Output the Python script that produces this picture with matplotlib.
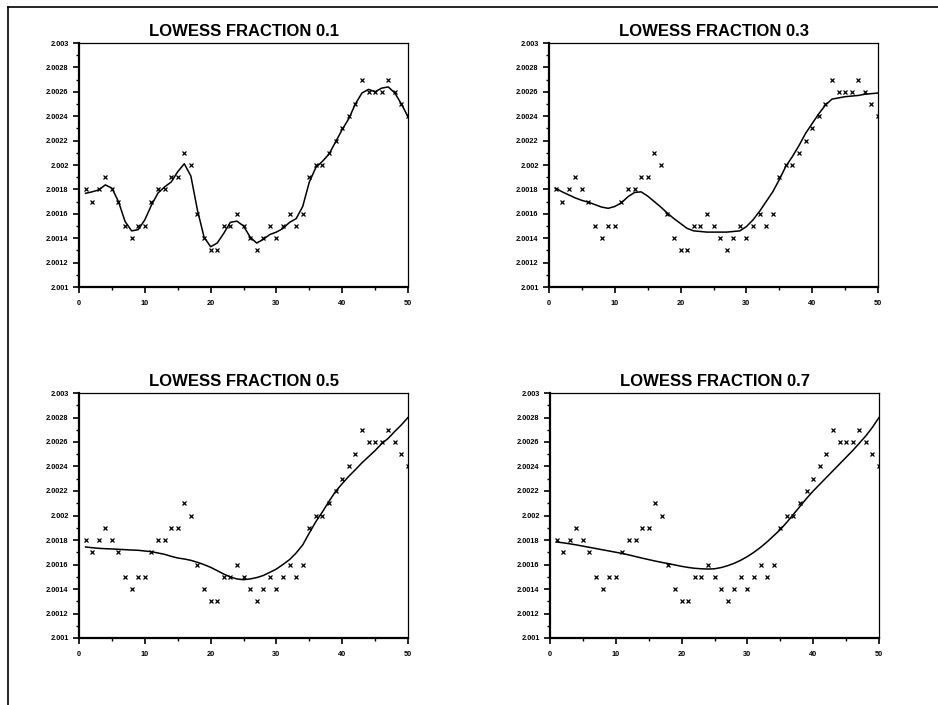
import numpy as np
import matplotlib.pyplot as plt
from matplotlib.lines import Line2D

plt.rcParams['font.family'] = ['Liberation Sans', 'DejaVu Sans']

x = list(range(1, 51))
y = [2.0018, 2.0017, 2.0018, 2.0019, 2.0018, 2.0017, 2.0015, 2.0014, 2.0015, 2.0015,
     2.0017, 2.0018, 2.0018, 2.0019, 2.0019, 2.0021, 2.0020, 2.0016, 2.0014, 2.0013,
     2.0013, 2.0015, 2.0015, 2.0016, 2.0015, 2.0014, 2.0013, 2.0014, 2.0015, 2.0014,
     2.0015, 2.0016, 2.0015, 2.0016, 2.0019, 2.0020, 2.0020, 2.0021, 2.0022, 2.0023,
     2.0024, 2.0025, 2.0027, 2.0026, 2.0026, 2.0026, 2.0027, 2.0026, 2.0025, 2.0024]

# smoothed curves (units of 1e-4 above 2.001)
fit_01 = [7.68, 7.8, 7.96, 8.37, 8.1, 7.0, 5.37, 4.6, 4.7, 5.5,
          6.7, 7.7, 8.2, 8.6, 9.45, 10.1, 9.1, 6.3, 4.1, 3.3,
          3.6, 4.4, 5.3, 5.4, 5.0, 4.1, 3.6, 3.9, 4.3, 4.5,
          4.8, 5.3, 5.6, 6.6, 8.6, 9.8, 10.3, 10.9, 11.9, 12.9,
          13.8, 15.0, 15.9, 16.2, 16.0, 16.3, 16.4, 15.9, 15.0, 13.95]
fit_03 = [8.1, 7.8, 7.55, 7.3, 7.1, 6.95, 6.75, 6.55, 6.45, 6.6,
          6.9, 7.4, 7.75, 7.8, 7.45, 7.0, 6.55, 6.05, 5.6, 5.2,
          4.8, 4.6, 4.55, 4.5, 4.5, 4.5, 4.5, 4.55, 4.6, 4.95,
          5.5, 6.2, 7.0, 7.8, 8.8, 9.9, 10.7, 11.6, 12.6, 13.4,
          14.2, 14.9, 15.4, 15.5, 15.6, 15.65, 15.7, 15.8, 15.85, 15.9]
fit_05 = [7.43, 7.37, 7.32, 7.29, 7.27, 7.24, 7.21, 7.18, 7.16, 7.1,
          7.05, 6.94, 6.83, 6.67, 6.53, 6.45, 6.34, 6.18, 5.99, 5.77,
          5.5, 5.22, 4.98, 4.82, 4.76, 4.82, 4.93, 5.1, 5.36, 5.63,
          6.0, 6.4, 6.94, 7.6, 8.57, 9.5, 10.3, 11.16, 11.97, 12.6,
          13.2, 13.74, 14.3, 14.8, 15.3, 15.86, 16.3, 16.87, 17.4, 18.0]
fit_07 = [7.84, 7.77, 7.69, 7.6, 7.5, 7.4, 7.3, 7.2, 7.1, 7.0,
          6.9, 6.78, 6.65, 6.52, 6.4, 6.28, 6.17, 6.07, 5.96, 5.85,
          5.76, 5.69, 5.65, 5.63, 5.65, 5.75, 5.9, 6.1, 6.35, 6.65,
          7.0, 7.4, 7.85, 8.35, 8.85, 9.45, 10.1, 10.75, 11.4, 12.0,
          12.55, 13.1, 13.65, 14.2, 14.75, 15.3, 15.9, 16.5, 17.2, 18.0]

titles = ['LOWESS FRACTION 0.1', 'LOWESS FRACTION 0.3',
          'LOWESS FRACTION 0.5', 'LOWESS FRACTION 0.7']
fits = [fit_01, fit_03, fit_05, fit_07]

W, H = 938, 705
fig = plt.figure(figsize=(W / 100, H / 100), dpi=100)

# panel boxes in pixels: left, top, right, bottom
boxes = [(79, 43, 408, 287), (549, 43, 878, 287),
         (79, 393, 408, 638), (550, 393, 879, 638)]

ytick_labels = ['2.001', '2.0012', '2.0014', '2.0016', '2.0018', '2.002',
                '2.0022', '2.0024', '2.0026', '2.0028', '2.003']

for (l, t, r, b), title, fit in zip(boxes, titles, fits):
    ax = fig.add_axes([l / W, 1 - b / H, (r - l) / W, (b - t) / H])
    ax.plot(x, y, linestyle='none', marker='x', color='black', markersize=3.2, mew=0.9)
    ax.plot(x, [2.001 + v * 1e-4 for v in fit], color='black', lw=1.1)
    ax.set_xlim(0, 50)
    ax.set_ylim(2.001, 2.003)
    ax.set_xticks(range(0, 51, 10))
    ax.set_xticks(range(5, 50, 10), minor=True)
    ax.set_xticklabels([str(v) for v in range(0, 51, 10)])
    ax.set_yticks(np.linspace(2.001, 2.003, 11))
    ax.set_yticks(np.linspace(2.0011, 2.0029, 10), minor=True)
    ax.set_yticklabels(ytick_labels)
    ax.tick_params(which='major', direction='out', length=4.5, width=1.2,
                   labelsize=5.3, pad=3)
    ax.tick_params(which='minor', direction='out', length=2.5, width=1.0)
    ax.tick_params(axis='x', pad=5)
    for lab in ax.get_xticklabels() + ax.get_yticklabels():
        lab.set_fontweight('bold')
    ax.spines['left'].set_linewidth(1.6)
    ax.spines['bottom'].set_linewidth(1.6)
    ax.spines['top'].set_linewidth(0.9)
    ax.spines['right'].set_linewidth(0.9)
    ax.set_title(title, fontsize=12, fontweight='bold', pad=5)

# outer frame lines (top and left)
fig.add_artist(Line2D([8 / W, 1], [1 - 7 / H, 1 - 7 / H], color='black', lw=1.2))
fig.add_artist(Line2D([8 / W, 8 / W], [0, 1 - 7 / H], color='black', lw=1.2))

plt.savefig('out.png', dpi=100)
